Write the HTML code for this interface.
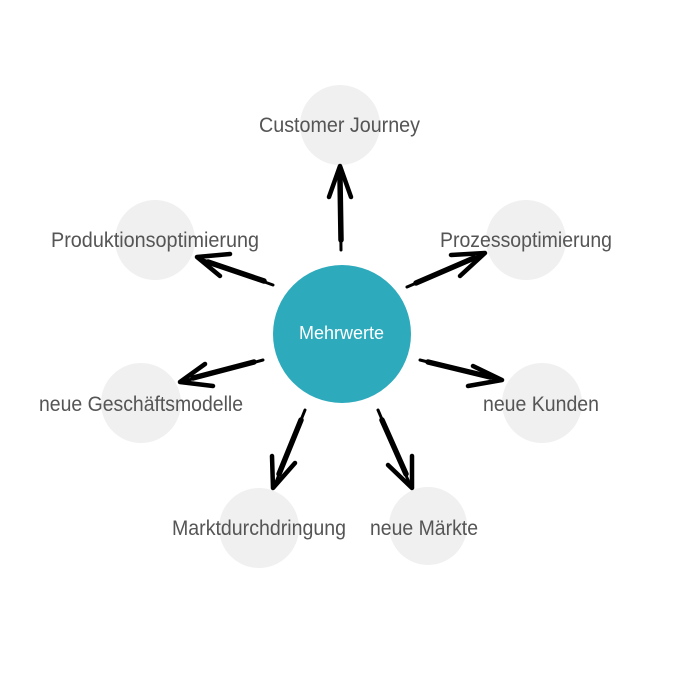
<!DOCTYPE html>
<html>
<head>
<meta charset="utf-8">
<style>
  html,body{margin:0;padding:0;background:#fff;}
  svg{display:block;}
  .lbl{font-family:"Liberation Sans",sans-serif;font-size:21px;fill:#555555;}
  .ar{stroke:#000;fill:none;stroke-linecap:round;stroke-linejoin:round;}
</style>
</head>
<body>
<svg width="700" height="700" viewBox="0 0 700 700" xmlns="http://www.w3.org/2000/svg">
  <!-- satellite circles -->
  <g fill="#f0f0f0">
    <circle cx="340" cy="125" r="40"/>
    <circle cx="155" cy="240" r="40"/>
    <circle cx="526" cy="240" r="40"/>
    <circle cx="141" cy="403" r="40"/>
    <circle cx="542" cy="403" r="40"/>
    <circle cx="259" cy="528" r="40"/>
    <circle cx="428" cy="526" r="39"/>
  </g>
  <!-- center -->
  <circle cx="342" cy="334" r="69" fill="#2daabc"/>
  <text x="299" y="339" font-family="Liberation Sans, sans-serif" font-size="18" fill="#ffffff" textLength="85" lengthAdjust="spacingAndGlyphs">Mehrwerte</text>

  <!-- arrows -->
  <g class="ar">
    <!-- up -->
    <path d="M341 250 L340 167" stroke-width="3"/>
    <path d="M341 240 L340 178" stroke-width="5.5"/>
    <path d="M329 197 L340 166 L351 197" stroke-width="4.5"/>
    <!-- upper left -->
    <path d="M273 285 L198 258" stroke-width="3"/>
    <path d="M264 281 L208 262" stroke-width="5.5"/>
    <path d="M230 254 L197 257 L220 276" stroke-width="4.5"/>
    <!-- upper right -->
    <path d="M407 287 L484 254" stroke-width="3"/>
    <path d="M416 283 L474 258" stroke-width="5.5"/>
    <path d="M451 255 L485 253 L460 276" stroke-width="4.5"/>
    <!-- lower left -->
    <path d="M263 360 L181 382" stroke-width="3"/>
    <path d="M254 362 L193 378" stroke-width="5.5"/>
    <path d="M205 364 L180 382 L213 386" stroke-width="4.5"/>
    <!-- lower right -->
    <path d="M420 360 L501 380" stroke-width="3"/>
    <path d="M428 362 L490 377" stroke-width="5.5"/>
    <path d="M473 366 L502 380 L468 386" stroke-width="4.5"/>
    <!-- down left -->
    <path d="M305 410 L274 487" stroke-width="3"/>
    <path d="M301 420 L279 474" stroke-width="5.5"/>
    <path d="M272 456 L273 488 L295 463" stroke-width="4.5"/>
    <!-- down right -->
    <path d="M378 410 L411 487" stroke-width="3"/>
    <path d="M382 420 L406 474" stroke-width="5.5"/>
    <path d="M388 465 L412 488 L412 456" stroke-width="4.5"/>
  </g>

  <!-- labels -->
  <text class="lbl" x="259" y="132" textLength="161" lengthAdjust="spacingAndGlyphs">Customer Journey</text>
  <text class="lbl" x="51" y="247" textLength="208" lengthAdjust="spacingAndGlyphs">Produktionsoptimierung</text>
  <text class="lbl" x="440" y="247" textLength="172" lengthAdjust="spacingAndGlyphs">Prozessoptimierung</text>
  <text class="lbl" x="39" y="411" textLength="204" lengthAdjust="spacingAndGlyphs">neue Geschäftsmodelle</text>
  <text class="lbl" x="483" y="411" textLength="116" lengthAdjust="spacingAndGlyphs">neue Kunden</text>
  <text class="lbl" x="172" y="535" textLength="174" lengthAdjust="spacingAndGlyphs">Marktdurchdringung</text>
  <text class="lbl" x="370" y="535" textLength="108" lengthAdjust="spacingAndGlyphs">neue Märkte</text>
</svg>
</body>
</html>
